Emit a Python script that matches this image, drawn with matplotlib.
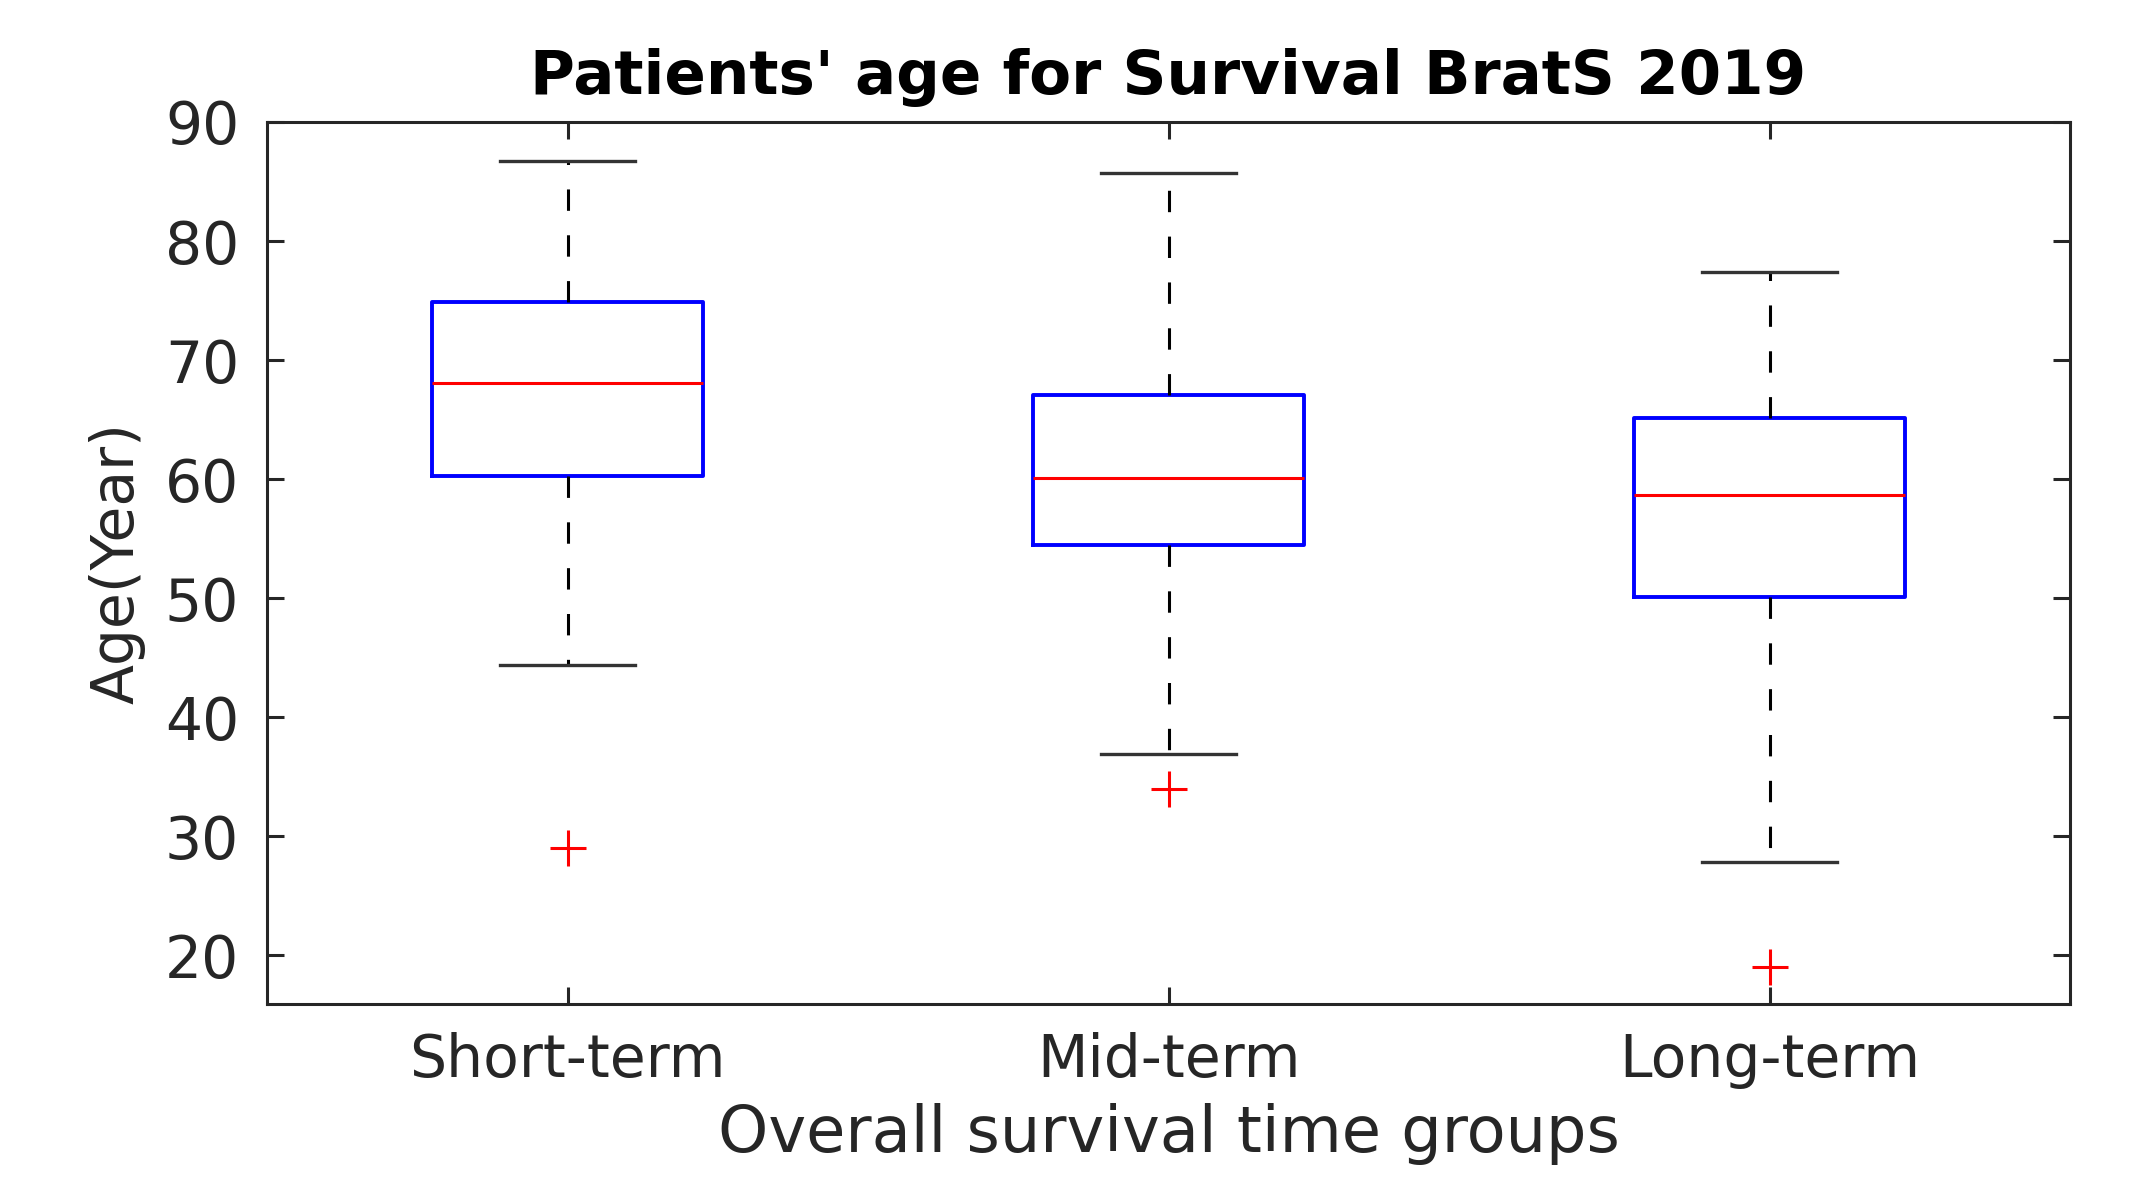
import matplotlib
matplotlib.use("Agg")
import matplotlib.pyplot as plt

groups = ["Short-term", "Mid-term", "Long-term"]
whisker_low = [44.4, 36.9, 27.8]
q1 = [60.3, 54.5, 50.1]
median = [68.1, 60.1, 58.7]
q3 = [74.9, 67.1, 65.1]
whisker_high = [86.7, 85.7, 77.4]
outliers = [[29.0], [34.0], [19.0]]

stats = []
for i, name in enumerate(groups):
    stats.append(dict(label=name, whislo=whisker_low[i], q1=q1[i], med=median[i],
                      q3=q3[i], whishi=whisker_high[i], fliers=outliers[i]))

plt.rcParams["font.family"] = ["DejaVu Sans"]
dark = "#262626"

fig = plt.figure(figsize=(21.55, 11.9), dpi=100)
ax = fig.add_axes([0.1239, 0.1563, 0.8367, 0.7412])

ax.bxp(stats, positions=[1, 2, 3], widths=0.45, capwidths=0.225,
       boxprops=dict(color="blue", linewidth=2.8),
       medianprops=dict(color="red", linewidth=2.2),
       whiskerprops=dict(color="black", linewidth=2.2, linestyle=(0, (7, 8))),
       capprops=dict(color="#333333", linewidth=2.4),
       flierprops=dict(marker="+", markeredgecolor="red", markersize=26,
                       markeredgewidth=2.2, linestyle="none"))

ax.set_xlim(0.5, 3.5)
ax.set_ylim(15.9, 90)
ax.set_yticks([20, 30, 40, 50, 60, 70, 80, 90])
ax.set_xticks([1, 2, 3])
ax.set_xticklabels(groups)

for s in ax.spines.values():
    s.set_linewidth(2.2)
    s.set_color(dark)
ax.tick_params(direction="in", top=True, right=True, length=12, width=2.2,
               color=dark, labelcolor=dark, labelsize=42)
ax.tick_params(axis="y", pad=20)
ax.tick_params(axis="x", pad=20)

ax.set_title("Patients' age for Survival BratS 2019", fontsize=44,
             fontweight="bold", color="black", pad=20)
ax.set_xlabel("Overall survival time groups", fontsize=46, color=dark, labelpad=10)
ax.set_ylabel("Age(Year)", fontsize=42, color=dark, labelpad=14)

fig.savefig("out.png", dpi=100)
